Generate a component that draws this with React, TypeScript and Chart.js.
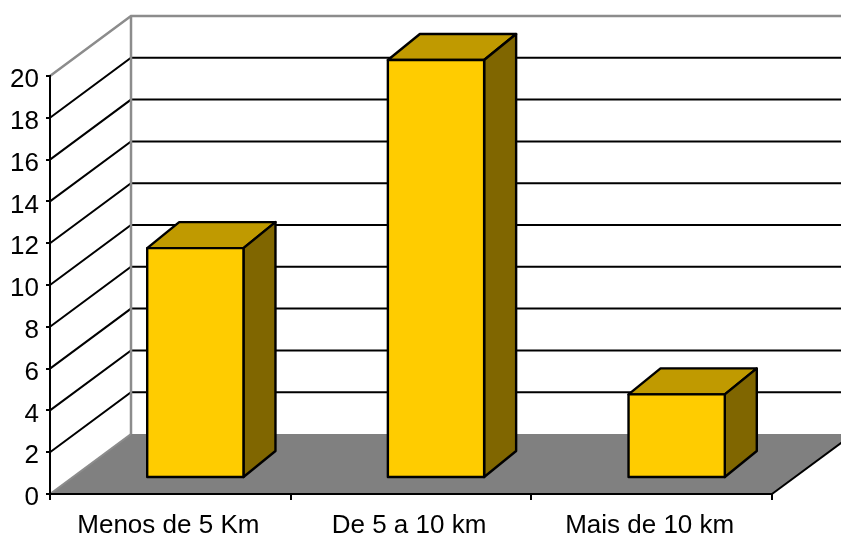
import React, { useEffect, useRef } from "react";
import { Chart, registerables } from "chart.js";

Chart.register(...registerables);

const categories = ["Menos de 5 Km", "De 5 a 10 km", "Mais de 10 km"];
const values = [11, 20, 4];

const FONT = "'Liberation Sans', Arial, sans-serif";
const WALL_DX = 81;
const WALL_DY = -60;
const BAR_SHIFT_X = 25;
const BAR_SHIFT_Y = -16;
const BAR_DX = 32;
const BAR_DY = -26;

const poly = (ctx: CanvasRenderingContext2D, pts: number[][], fill?: string, stroke?: string, lw = 2) => {
  ctx.beginPath();
  pts.forEach((p, i) => (i ? ctx.lineTo(p[0], p[1]) : ctx.moveTo(p[0], p[1])));
  if (fill) {
    ctx.closePath();
    ctx.fillStyle = fill;
    ctx.fill();
  }
  if (stroke) {
    ctx.strokeStyle = stroke;
    ctx.lineWidth = lw;
    ctx.stroke();
  }
};

const walls = {
  id: "walls",
  beforeDraw(chart: any) {
    const { ctx, chartArea: a, scales } = chart;
    const y = scales.y;
    const y0 = a.bottom;
    ctx.save();
    // floor
    poly(ctx, [[a.left, y0], [a.right, y0], [a.right + WALL_DX, y0 + WALL_DY], [a.left + WALL_DX, y0 + WALL_DY]], "#808080");
    poly(ctx, [[a.right, y0], [a.right + WALL_DX, y0 + WALL_DY]], undefined, "#000", 2);
    poly(ctx, [[a.left, y0], [a.left + WALL_DX, y0 + WALL_DY]], undefined, "#8c8c8c", 2);
    // gridlines on side and back walls
    y.ticks.forEach((t: any) => {
      const py = y.getPixelForValue(t.value);
      if (t.value === y.min) return;
      const top = t.value === y.max;
      poly(
        ctx,
        [[a.left, py], [a.left + WALL_DX, py + WALL_DY], [a.right + WALL_DX, py + WALL_DY]],
        undefined,
        top ? "#8c8c8c" : "#000",
        top ? 2.5 : 2
      );
    });
    // back wall corner
    poly(ctx, [[a.left + WALL_DX, a.top + WALL_DY], [a.left + WALL_DX, y0 + WALL_DY]], undefined, "#8c8c8c", 2.5);
    ctx.restore();
  },
  beforeDatasetsDraw(chart: any) {
    const { ctx } = chart;
    ctx.save();
    ctx.translate(BAR_SHIFT_X, BAR_SHIFT_Y);
    ctx.lineJoin = "round";
    chart.getDatasetMeta(0).data.forEach((el: any) => {
      const l = el.x - el.width / 2;
      const r = el.x + el.width / 2;
      const t = el.y;
      const b = el.base;
      poly(ctx, [[l, t], [r, t], [r + BAR_DX, t + BAR_DY], [l + BAR_DX, t + BAR_DY]], "#C09A00", "#000", 2.4);
      poly(ctx, [[r, t], [r + BAR_DX, t + BAR_DY], [r + BAR_DX, b + BAR_DY], [r, b]], "#806600", "#000", 2.4);
    });
  },
  afterDatasetsDraw(chart: any) {
    const { ctx } = chart;
    chart.getDatasetMeta(0).data.forEach((el: any) => {
      ctx.strokeStyle = "#000";
      ctx.lineWidth = 2.4;
      ctx.strokeRect(el.x - el.width / 2, el.y, el.width, el.base - el.y);
    });
    ctx.restore();
  },
};

export default function App() {
  const ref = useRef<HTMLCanvasElement>(null);
  useEffect(() => {
    document.body.style.margin = "0";
    const chart = new Chart(ref.current!, {
      type: "bar",
      data: {
        labels: categories,
        datasets: [
          {
            data: values,
            backgroundColor: "#FFCC00",
            borderWidth: 0,
            barPercentage: 0.4,
            categoryPercentage: 1,
          },
        ],
      },
      options: {
        responsive: false,
        animation: false,
        layout: { padding: { top: 76, right: 69, left: 0, bottom: 0 } },
        plugins: { legend: { display: false }, tooltip: { enabled: false } },
        scales: {
          x: {
            afterFit: (s: any) => {
              s.height = 42;
            },
            grid: { drawOnChartArea: false, drawTicks: true, tickLength: 6, color: "#000", lineWidth: 2 },
            border: { color: "#000", width: 2 },
            ticks: { color: "#000", padding: 10, font: { family: FONT, size: 26 }, maxRotation: 0, labelOffset: -2 },
          },
          y: {
            min: 0,
            max: 20,
            afterFit: (s: any) => {
              s.width = 50;
            },
            grid: { drawOnChartArea: false, drawTicks: true, tickLength: 4, color: "#000", lineWidth: 2 },
            border: { color: "#000", width: 2 },
            ticks: { stepSize: 2, color: "#000", padding: 7, font: { family: FONT, size: 26 }, labelOffset: 4 },
          },
        },
      } as any,
      plugins: [walls],
    });
    return () => chart.destroy();
  }, []);
  return <canvas ref={ref} width={841} height={536} style={{ display: "block", width: 841, height: 536 }} />;
}
